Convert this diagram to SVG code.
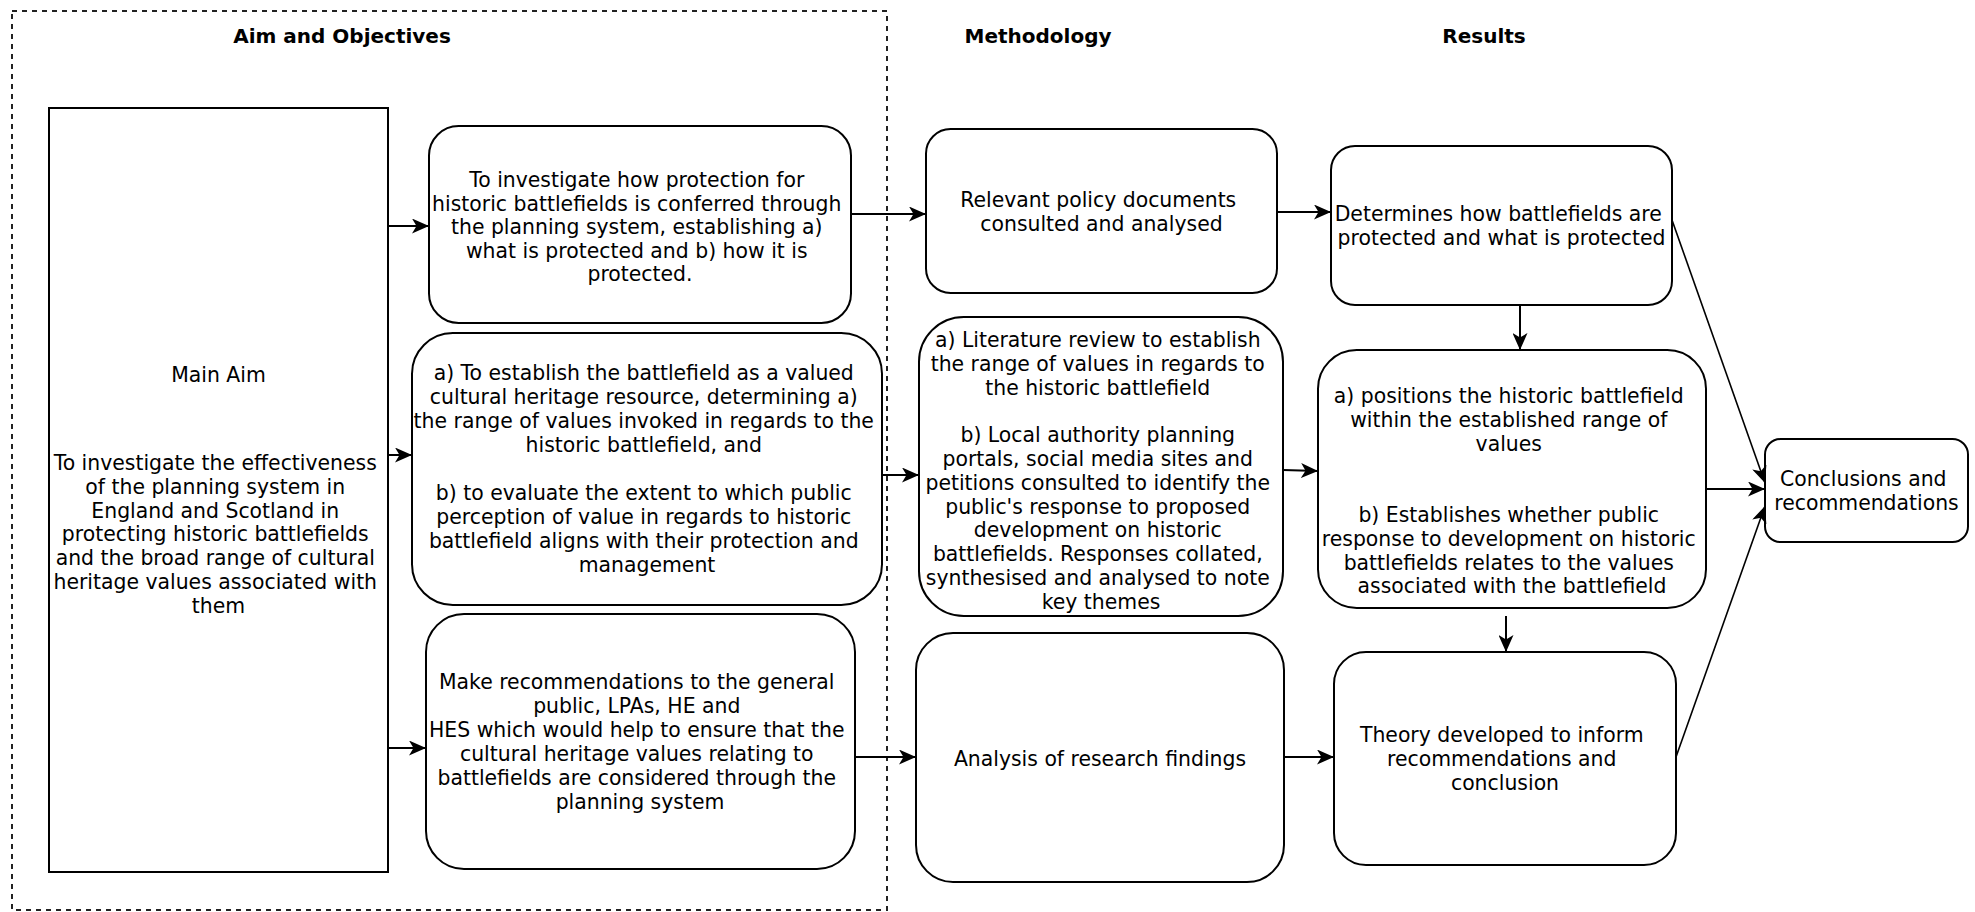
<svg xmlns="http://www.w3.org/2000/svg" width="1975" height="912" viewBox="0 0 1975 912">
<style>
.bg{fill:#fff}
.box{fill:#fff;stroke:#000;stroke-width:2}
.frame{fill:none;stroke:#222;stroke-width:2;stroke-dasharray:5 5}
.t{font-family:"DejaVu Sans",Verdana,sans-serif;font-size:20.4px;fill:#000;text-anchor:middle}
.h{font-family:"DejaVu Sans",Verdana,sans-serif;font-size:20px;font-weight:bold;fill:#000;text-anchor:middle}
.c{fill:none;stroke:#000;stroke-width:2}
.d{fill:none;stroke:#000;stroke-width:1.6}
</style>
<defs>
<marker id="ah" markerUnits="userSpaceOnUse" markerWidth="17" markerHeight="15" refX="17" refY="7.5" orient="auto" viewBox="0 0 17 15">
<path d="M0,0 L17,7.5 L0,15 L4.5,7.5 Z" fill="#000"/>
</marker>
</defs>
<rect class="bg" x="0" y="0" width="1975" height="912"/>
<rect class="frame" x="12" y="11" width="875" height="899"/>
<g id="headings">
<text class="h" x="342" y="43">Aim and Objectives</text>
<text class="h" x="1038" y="43">Methodology</text>
<text class="h" x="1484" y="43">Results</text>
</g>
<g id="main-aim">
<rect class="box" x="49" y="108" width="339" height="764"/>
<text class="t" x="218.5" y="382">Main Aim</text>
<text class="t" x="218.5" y="470">
<tspan x="218.5" dy="0">To investigate the effectiveness</tspan>
<tspan x="218.5" dy="23.8">of the planning system in</tspan>
<tspan x="218.5" dy="23.8">England and Scotland in</tspan>
<tspan x="218.5" dy="23.8">protecting historic battlefields</tspan>
<tspan x="218.5" dy="23.8">and the broad range of cultural</tspan>
<tspan x="218.5" dy="23.8">heritage values associated with</tspan>
<tspan x="218.5" dy="23.8">them</tspan>
</text>
</g>
<g id="objective-1">
<rect class="box" x="429" y="126" width="422" height="197" rx="29.6"/>
<text class="t" x="640" y="187">
<tspan x="640" dy="0">To investigate how protection for</tspan>
<tspan x="640" dy="23.5">historic battlefields is conferred through</tspan>
<tspan x="640" dy="23.5">the planning system, establishing a)</tspan>
<tspan x="640" dy="23.5">what is protected and b) how it is</tspan>
<tspan x="640" dy="23.5">protected.</tspan>
</text>
</g>
<g id="objective-2">
<rect class="box" x="412" y="333" width="470" height="272" rx="40.8"/>
<text class="t" x="647" y="380">
<tspan x="647" dy="0">a) To establish the battlefield as a valued</tspan>
<tspan x="647" dy="24">cultural heritage resource, determining a)</tspan>
<tspan x="647" dy="24">the range of values invoked in regards to the</tspan>
<tspan x="647" dy="24">historic battlefield, and</tspan>
<tspan x="647" dy="48">b) to evaluate the extent to which public</tspan>
<tspan x="647" dy="24">perception of value in regards to historic</tspan>
<tspan x="647" dy="24">battlefield aligns with their protection and</tspan>
<tspan x="647" dy="24">management</tspan>
</text>
</g>
<g id="objective-3">
<rect class="box" x="426" y="614" width="429" height="255" rx="38"/>
<text class="t" x="640" y="689">
<tspan x="640" dy="0">Make recommendations to the general</tspan>
<tspan x="640" dy="24">public, LPAs, HE and</tspan>
<tspan x="640" dy="24">HES which would help to ensure that the</tspan>
<tspan x="640" dy="24">cultural heritage values relating to</tspan>
<tspan x="640" dy="24">battlefields are considered through the</tspan>
<tspan x="640" dy="24">planning system</tspan>
</text>
</g>
<g id="method-1">
<rect class="box" x="926" y="129" width="351" height="164" rx="24.6"/>
<text class="t" x="1101.5" y="207">
<tspan x="1101.5" dy="0">Relevant policy documents</tspan>
<tspan x="1101.5" dy="23.5">consulted and analysed</tspan>
</text>
</g>
<g id="method-2">
<rect class="box" x="919" y="317" width="364" height="299" rx="44.8"/>
<text class="t" x="1101" y="347">
<tspan x="1101" dy="0">a) Literature review to establish</tspan>
<tspan x="1101" dy="23.8">the range of values in regards to</tspan>
<tspan x="1101" dy="23.8">the historic battlefield</tspan>
<tspan x="1101" dy="47.6">b) Local authority planning</tspan>
<tspan x="1101" dy="23.8">portals, social media sites and</tspan>
<tspan x="1101" dy="23.8">petitions consulted to identify the</tspan>
<tspan x="1101" dy="23.8">public's response to proposed</tspan>
<tspan x="1101" dy="23.8">development on historic</tspan>
<tspan x="1101" dy="23.8">battlefields. Responses collated,</tspan>
<tspan x="1101" dy="23.8">synthesised and analysed to note</tspan>
<tspan x="1101" dy="23.8">key themes</tspan>
</text>
</g>
<g id="method-3">
<rect class="box" x="916" y="633" width="368" height="249" rx="37"/>
<text class="t" x="1100" y="766">Analysis of research findings</text>
</g>
<g id="result-1">
<rect class="box" x="1331" y="146" width="341" height="159" rx="24"/>
<text class="t" x="1501.5" y="221">
<tspan x="1501.5" dy="0">Determines how battlefields are</tspan>
<tspan x="1501.5" dy="24">protected and what is protected</tspan>
</text>
</g>
<g id="result-2">
<rect class="box" x="1318" y="350" width="388" height="258" rx="38.7"/>
<text class="t" x="1512" y="403">
<tspan x="1512" dy="0">a) positions the historic battlefield</tspan>
<tspan x="1512" dy="23.8">within the established range of</tspan>
<tspan x="1512" dy="23.8">values</tspan>
<tspan x="1512" dy="71.4">b) Establishes whether public</tspan>
<tspan x="1512" dy="23.8">response to development on historic</tspan>
<tspan x="1512" dy="23.8">battlefields relates to the values</tspan>
<tspan x="1512" dy="23.8">associated with the battlefield</tspan>
</text>
</g>
<g id="result-3">
<rect class="box" x="1334" y="652" width="342" height="213" rx="32"/>
<text class="t" x="1505" y="742">
<tspan x="1505" dy="0">Theory developed to inform</tspan>
<tspan x="1505" dy="24">recommendations and</tspan>
<tspan x="1505" dy="24">conclusion</tspan>
</text>
</g>
<g id="conclusions">
<rect class="box" x="1765" y="439" width="203" height="103" rx="15.5"/>
<text class="t" x="1866.5" y="486">
<tspan x="1866.5" dy="0">Conclusions and</tspan>
<tspan x="1866.5" dy="23.5">recommendations</tspan>
</text>
</g>
<g id="connectors">
<path class="c" d="M388,226 H429" marker-end="url(#ah)"/>
<path class="c" d="M388,455 H412" marker-end="url(#ah)"/>
<path class="c" d="M388,748 H426" marker-end="url(#ah)"/>
<path class="c" d="M851,214 H926" marker-end="url(#ah)"/>
<path class="c" d="M882,475 H919" marker-end="url(#ah)"/>
<path class="c" d="M855,757 H916" marker-end="url(#ah)"/>
<path class="c" d="M1277,212 H1331" marker-end="url(#ah)"/>
<path class="c" d="M1283,470 L1318,471" marker-end="url(#ah)"/>
<path class="c" d="M1284,757 H1334" marker-end="url(#ah)"/>
<path class="c" d="M1520,305 V350" marker-end="url(#ah)"/>
<path class="c" d="M1506,616 V652" marker-end="url(#ah)"/>
<path class="d" d="M1672,220 L1765,483" marker-end="url(#ah)"/>
<path class="c" d="M1706,489 H1765" marker-end="url(#ah)"/>
<path class="d" d="M1676,757 L1765,506" marker-end="url(#ah)"/>
</g>
</svg>
